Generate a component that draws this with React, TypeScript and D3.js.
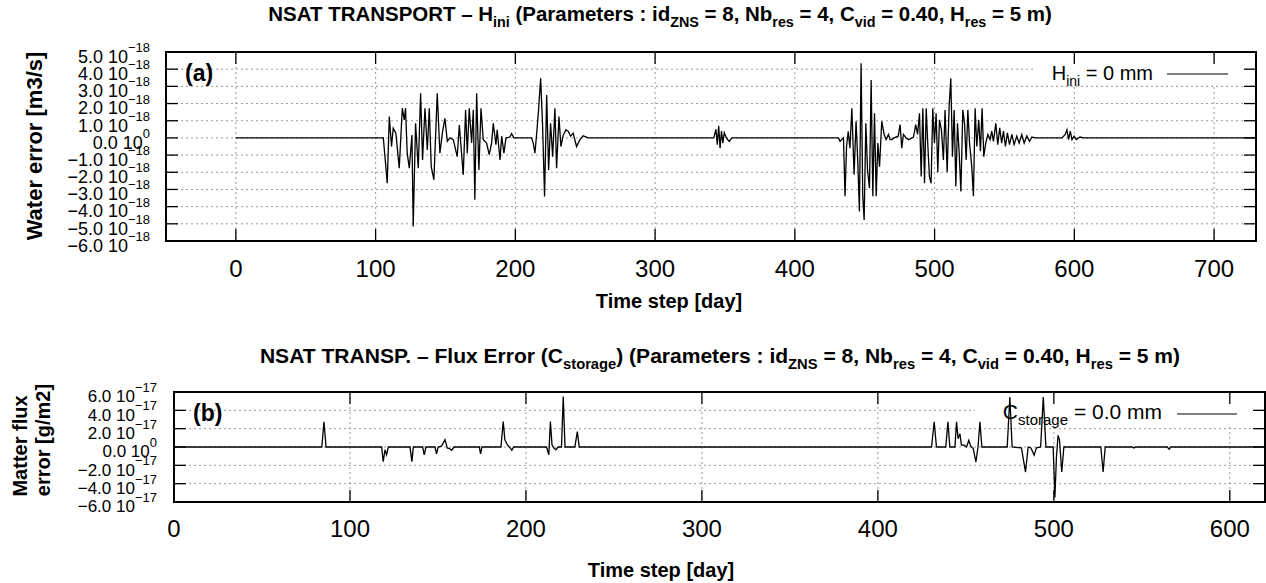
import React, { useLayoutEffect, useRef, useState } from "react";
import * as d3 from "d3";

// ---------- DATA ----------
// Panel (a): water error, unit 1e-18 m3/s, [day, value]
const waterError: [number, number][] = [
  [0, 0], [105.5, 0], [106.7, -1.09], [108.3, -2.64], [109.8, 1.24], [111.4, -0.5], [112.6, 0.56], [114.5, 0.27],
  [116.9, -1.76], [119.1, 1.73], [120.5, 1.05], [121.4, 1.73], [122.6, -0.89], [124.1, -1.76], [126, 0.17],
  [126.9, -5.16], [128.6, 0.85], [130.5, -1.76], [132.2, 2.6], [133.6, -1.28], [135.3, 1.73], [137, -0.7],
  [138.4, 1.73], [139.8, -1.67], [141.7, -2.44], [144.1, 2.6], [146, -0.89], [147.9, 0.37], [149.6, 1.14],
  [151.3, -0.2], [153.2, 0], [155.6, -0.1], [158.4, -1.09], [159.9, 0.75], [162.7, -2.15], [164.4, 1.63],
  [165.6, -0.89], [167, 1.73], [168.7, -0.3], [169.9, 1.63], [171, -3.6], [172.3, 2.6], [173.9, -1.86],
  [175.4, 1.73], [177, -0.1], [179.4, -0.3], [181.3, -0.97], [183, -0.3], [184.2, 0.85], [186.1, -0.4],
  [187, 0.47], [189, -1.28], [190.2, 0.1], [191.8, -0.89], [193.3, 0], [196.1, 0.05], [197.3, 0.25], [199, 0],
  [211.6, 0], [212.8, -0.3], [214, -0.89], [215.2, 0.2], [216.6, 1.63], [218.1, 3.47], [219.5, 0.66],
  [220.9, -3.41], [222.4, 2.5], [223.8, -1.86], [225.2, 0.85], [226.7, -1.09], [228.3, 1.73], [229.5, -1.76],
  [231.2, 1.24], [232.6, -0.5], [234.3, 0.17], [236.2, 0.47], [237.9, 0.37], [239.5, 0.1], [241.4, 0.27],
  [243.8, -0.5], [246.2, -0.1], [248.5, 0.12], [252.1, 0],
  [342, 0], [343.5, 0.5], [344.5, -0.4], [345.5, 0.7], [346.5, -0.6], [347.5, 0.4], [348.5, -0.3], [349.5, 0.3],
  [351, 0], [353, -0.2], [355, 0],
  [431.2, 0], [432.4, -0.2], [433.6, -0.1], [434.8, 0], [435.9, -3.4], [437, -0.5], [438.2, 0.39], [439.4, -0.6],
  [440.8, 1.73], [442.4, -2.15], [443.8, 0.97], [445, -1.28], [446.2, -4.28], [447.4, 4.34], [448.6, -3.4],
  [449.6, -4.77], [450.8, 0.85], [452, -1.86], [453.4, -2.92], [454.6, 3.37], [455.8, -3.4], [457, 1.43],
  [458.2, -3.4], [459.4, -0.3], [460.6, -1.67], [462.2, 0.97], [463.9, 0.2], [465.3, -0.1], [467, 0.2],
  [468.2, -0.1], [469.4, -0.1], [471, 0], [474, 0.1], [475.3, 0.78], [476.5, -0.6], [477.7, 0.2], [479.6, 0],
  [481.3, -0.1], [484.9, 0.05], [486.5, 0.78], [487.8, 0.2], [489.2, 1.43], [490.4, -2.25], [491.6, 1.73],
  [492.8, -2.64], [494, 1.73], [495.2, -0.5], [496.3, -2.25], [497.5, -2.64], [498.7, 1.73], [499.9, -0.3],
  [501.1, 1.43], [502.3, -2.0], [503.5, 1.05], [504.9, 0.47], [506.3, -1.28], [507.5, 1.63], [509, -2.0],
  [510.4, 1.82], [511.6, 3.47], [512.8, -1.09], [514, 1.63], [515.2, -2.83], [516.4, 0.85], [517.6, -0.89],
  [518.8, -3.12], [520.2, 1.63], [521.4, 0.85], [522.6, -1.28], [523.8, 1.63], [525, -0.3], [526.6, -1.67],
  [527.8, -3.4], [529, 1.73], [530.2, -0.5], [531.6, 1.05], [532.8, -0.78], [534, 1.73], [535.2, -1.09],
  [536.6, -0.3], [538.1, 0.2], [539.7, -0.1], [540.9, 0.39], [542.1, -0.2], [543.8, 0.85], [545.2, -0.39],
  [546.6, 0.58], [548, -0.3], [549.3, 0.39], [550.7, -0.5], [552.1, 0.3], [553.6, -0.39], [555.3, 0.2],
  [556.9, -0.39], [558.8, 0.1], [560.5, -0.3], [562.4, 0.2], [564.1, -0.3], [566, 0.12], [567.9, -0.2],
  [569.6, 0.05], [572, 0], [591.1, 0], [593.5, 0.2], [594.7, 0.47], [595.9, -0.1], [597.1, 0.39], [598.3, -0.1],
  [599.8, 0.1], [601.4, -0.1], [604, 0.05], [606.5, 0], [730, 0],
];

// Panel (b): matter flux error, unit 1e-17 g/m2, [day, value]
const fluxError: [number, number][] = [
  [0, 0], [84, 0], [85.2, 2.76], [86.4, 0], [118, 0], [118.9, -1.6], [119.9, -0.3], [120.8, -0.85], [121.8, 0],
  [134.1, 0], [135.2, -1.6], [136, 0], [141.3, 0], [142.2, -0.85], [143.2, 0], [148.3, 0], [149.2, -0.75],
  [150.1, 0], [152, 0.1], [154, 0.8], [155.3, -0.1], [156.8, -0.2], [157.8, -0.35], [159.1, 0], [173.5, 0],
  [174.2, -0.75], [175, 0], [185.8, 0], [187.1, 2.78], [188, 0.8], [189.4, 0.25], [190.5, 0], [191, -0.1],
  [192, -0.35], [193, 0], [211.7, 0], [213, -0.85], [213.9, 2.78], [214.8, 0.25], [215.8, -0.1], [217, -0.3],
  [218.3, 0], [220.2, 0], [221.2, 5.5], [222.2, 0], [227.8, 0], [229.2, 1.67], [230.3, 0], [430.5, 0],
  [432, 2.76], [433.3, 0], [438.6, 0], [439.8, 2.76], [440.9, 0], [443.8, 0], [444.7, 2.76], [445.6, 0.9],
  [446.6, 1.45], [447.5, 0.2], [449, 0.2], [450.4, 0], [451.7, 0.73], [452.8, 0.1], [454.2, -0.18],
  [455.7, -1.64], [456.9, 0], [458, 2.76], [459.1, 0], [473.5, 0], [475, 5.46], [476.3, 0], [481.6, -0.1],
  [483.9, -2.73], [485.4, 0], [487, -0.1], [488.8, -0.9], [490.1, -0.1], [492.5, 0], [494, 5.46], [495.5, 0],
  [499.6, 0], [500.6, -5.5], [501.5, -1], [502.4, 1.27], [503.2, 0.8], [504.5, -2.73], [505.7, 0], [526.7, 0],
  [528, -2.73], [529.2, 0], [544.5, 0], [545.5, -0.12], [546.5, 0], [564.5, 0], [565.5, -0.25], [566.5, 0],
  [620, 0],
];

const topXTicks = [0, 100, 200, 300, 400, 500, 600, 700];
const topYTicks = [5, 4, 3, 2, 1, 0, -1, -2, -3, -4, -5, -6];
const botXTicks = [0, 100, 200, 300, 400, 500, 600];
const botYTicks = [6, 4, 2, 0, -2, -4, -6];

const FONT = "'Liberation Sans', Arial, Helvetica, sans-serif";

type Part = { t: string; sub?: boolean };

const titleTop: Part[] = [
  { t: "NSAT TRANSPORT \u2013 H" }, { t: "ini", sub: true },
  { t: " (Parameters : id" }, { t: "ZNS", sub: true }, { t: " = 8, Nb" }, { t: "res", sub: true },
  { t: " = 4, C" }, { t: "vid", sub: true }, { t: " = 0.40, H" }, { t: "res", sub: true }, { t: " = 5 m)" },
];
const titleBot: Part[] = [
  { t: "NSAT TRANSP. \u2013 Flux Error (C" }, { t: "storage", sub: true }, { t: ")" },
  { t: " (Parameters : id" }, { t: "ZNS", sub: true }, { t: " = 8, Nb" }, { t: "res", sub: true },
  { t: " = 4, C" }, { t: "vid", sub: true }, { t: " = 0.40, H" }, { t: "res", sub: true }, { t: " = 5 m)" },
];

function RichText({ parts, x, y, size, subSize, bold, anchor, fitWidth }: any) {
  const ref = useRef<SVGTextElement>(null);
  const [sx, setSx] = useState(1);
  useLayoutEffect(() => {
    if (fitWidth && ref.current) {
      const w = ref.current.getBBox().width;
      if (w > 0) setSx(fitWidth / w);
    }
  }, [fitWidth]);
  const subDy = size * 0.3;
  const nodes: any[] = [];
  parts.forEach((p: Part, i: number) => {
    if (p.sub) {
      nodes.push(<tspan key={i} dy={subDy} fontSize={subSize}>{p.t}</tspan>);
    } else {
      const prevSub = i > 0 && parts[i - 1].sub;
      nodes.push(<tspan key={i} dy={prevSub ? -subDy : 0} fontSize={size}>{p.t}</tspan>);
    }
  });
  return (
    <g transform={`translate(${x},${y}) scale(${sx},1)`}>
      <text ref={ref} x={0} y={0} textAnchor={anchor || "middle"} fontFamily={FONT}
        fontWeight={bold ? "bold" : "normal"} fontSize={size} fill="#000">
        {nodes}
      </text>
    </g>
  );
}

function fmt(v: number) {
  const s = Math.abs(v).toFixed(1);
  return (v < 0 ? "\u2212" : "") + s + " 10";
}

function Panel(props: any) {
  const { data, xDomain, xRange, yDomain, yRange, xTicks, yTicks, exp, labelRight, tickSize, supSize,
    xLabelY, legend, legendBox, panelLabel } = props;
  const xs = d3.scaleLinear().domain(xDomain).range(xRange);
  const ys = d3.scaleLinear().domain(yDomain).range(yRange);
  const [x0, x1] = xRange;
  const [yb, yt] = yRange;
  const line = d3.line<[number, number]>().x((d) => xs(d[0])).y((d) => ys(d[1]));
  const grid = "#9a9a9a";
  const tl = 12;
  return (
    <g>
      {yTicks.filter((v: number) => ys(v) > yt + 1 && ys(v) < yb - 1).map((v: number) => (
        <line key={"gy" + v} x1={x0} x2={x1} y1={ys(v)} y2={ys(v)} stroke={grid} strokeWidth={1} strokeDasharray="2,3" />
      ))}
      {xTicks.filter((v: number) => xs(v) > x0 + 1 && xs(v) < x1 - 1).map((v: number) => (
        <line key={"gx" + v} x1={xs(v)} x2={xs(v)} y1={yt} y2={yb} stroke={grid} strokeWidth={1} strokeDasharray="2,3" />
      ))}
      <rect x={legendBox[0]} y={legendBox[1]} width={legendBox[2]} height={legendBox[3]} fill="#fff" />
      <RichText parts={legend.parts} x={legend.x} y={legend.y} size={legend.size} subSize={legend.subSize} anchor="end" />
      <line x1={legend.l1} x2={legend.l2} y1={legend.ly} y2={legend.ly} stroke="#000" strokeWidth={1.2} />
      <path d={line(data) || ""} fill="none" stroke="#000" strokeWidth={1.3} strokeLinejoin="miter" />
      <rect x={x0} y={yt} width={x1 - x0} height={yb - yt} fill="none" stroke="#000" strokeWidth={2} />
      {xTicks.map((v: number) => (
        <g key={"tx" + v}>
          <line x1={xs(v)} x2={xs(v)} y1={yb} y2={yb - tl} stroke="#000" strokeWidth={1.3} />
          <line x1={xs(v)} x2={xs(v)} y1={yt} y2={yt + tl} stroke="#000" strokeWidth={1.3} />
          <text x={xs(v)} y={xLabelY} textAnchor="middle" fontFamily={FONT} fontSize={24}>{v}</text>
        </g>
      ))}
      {yTicks.map((v: number) => (
        <g key={"ty" + v}>
          <line x1={x0} x2={x0 + tl} y1={ys(v)} y2={ys(v)} stroke="#000" strokeWidth={1.3} />
          <line x1={x1} x2={x1 - tl} y1={ys(v)} y2={ys(v)} stroke="#000" strokeWidth={1.3} />
          <text x={labelRight} y={ys(v) + tickSize * 0.6} textAnchor="end" fontFamily={FONT} fontSize={tickSize}>
            {fmt(v)}
            <tspan dy={-tickSize * 0.6} fontSize={supSize}>{v === 0 ? "0" : "\u2212" + exp}</tspan>
          </text>
        </g>
      ))}
      <text x={panelLabel.x} y={panelLabel.y} fontFamily={FONT} fontWeight="bold" fontSize={23}>{panelLabel.t}</text>
    </g>
  );
}

export default function App() {
  return (
    <svg width={1266} height={583} style={{ position: "absolute", left: 0, top: 0, background: "#fff" }}>
      <rect x={0} y={0} width={1266} height={583} fill="#fff" />
      <RichText parts={titleTop} x={660} y={21} size={20} subSize={14} bold fitWidth={784} />
      <Panel
        data={waterError} xDomain={[-50, 730]} xRange={[166, 1256]} yDomain={[-6, 5]} yRange={[241, 52]}
        xTicks={topXTicks} yTicks={topYTicks} exp="18" labelRight={150} tickSize={18} supSize={13}
        xLabelY={277}
        legend={{ parts: [{ t: "H" }, { t: "ini", sub: true }, { t: " = 0 mm" }], x: 1153, y: 80, size: 20, subSize: 14, l1: 1167, l2: 1228, ly: 74 }}
        legendBox={[1035, 58, 208, 26]}
        panelLabel={{ t: "(a)", x: 185, y: 81 }}
      />
      <text x={669} y={308} textAnchor="middle" fontFamily={FONT} fontWeight="bold" fontSize={20}>Time step [day]</text>
      <text transform="translate(42,146) rotate(-90)" textAnchor="middle" fontFamily={FONT} fontWeight="bold" fontSize={22}>Water error [m3/s]</text>

      <RichText parts={titleBot} x={720} y={363} size={20} subSize={14} bold fitWidth={921} />
      <Panel
        data={fluxError} xDomain={[0, 620]} xRange={[174, 1265]} yDomain={[-6, 6]} yRange={[502, 392]}
        xTicks={botXTicks} yTicks={botYTicks} exp="17" labelRight={157} tickSize={17} supSize={13}
        xLabelY={537}
        legend={{ parts: [{ t: "C" }, { t: "storage", sub: true }, { t: " = 0.0 mm" }], x: 1162, y: 419, size: 21, subSize: 15, l1: 1177, l2: 1237, ly: 414 }}
        legendBox={[975, 398, 280, 27]}
        panelLabel={{ t: "(b)", x: 193, y: 421 }}
      />
      <text x={661} y={577} textAnchor="middle" fontFamily={FONT} fontWeight="bold" fontSize={20}>Time step [day]</text>
      <text transform="translate(27,446) rotate(-90)" textAnchor="middle" fontFamily={FONT} fontWeight="bold" fontSize={20}>Matter flux</text>
      <text transform="translate(50,440) rotate(-90)" textAnchor="middle" fontFamily={FONT} fontWeight="bold" fontSize={20}>error [g/m2]</text>
    </svg>
  );
}
